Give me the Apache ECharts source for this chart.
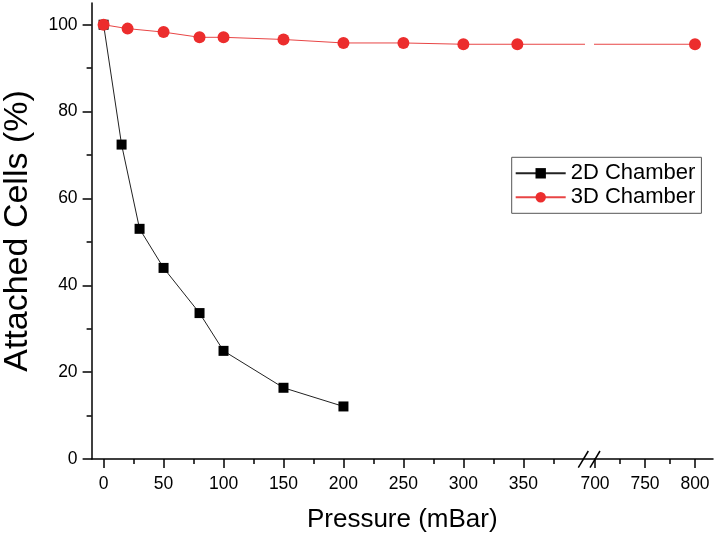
<!DOCTYPE html>
<html>
<head>
<meta charset="utf-8">
<script src="https://cdn.jsdelivr.net/npm/echarts@6/dist/echarts.min.js"></script>
<style>html,body{margin:0;padding:0;background:#fff}#c{width:717px;height:538px}</style>
</head>
<body>
<div id="c"></div>
<script>
// ---- data ----
const pressure2D = [0, 15, 30, 50, 80, 100, 150, 200];
const attached2D = [100, 72.4, 53, 44, 33.6, 24.9, 16.4, 12.1];
const pressure3D = [0, 20, 50, 80, 100, 150, 200, 250, 300, 345, 800];
const attached3D = [100, 99.1, 98.3, 97.1, 97.1, 96.6, 95.8, 95.8, 95.5, 95.5, 95.5];
const seriesNames = ['2D Chamber', '3D Chamber'];
// ---- ticks ----
const xTicksLeft = [0, 50, 100, 150, 200, 250, 300, 350];
const xMinorLeft = [25, 75, 125, 175, 225, 275, 325, 375];
const xTicksRight = [700, 750, 800];
const xMinorRight = [725, 775];
const yTicks = [0, 20, 40, 60, 80, 100];
const yMinor = [10, 30, 50, 70, 90];
const xTitle = 'Pressure (mBar)';
const yTitle = 'Attached Cells (%)';

const FONT = "'Liberation Sans', Arial, Helvetica, sans-serif";
const pairs = (xs, ys) => xs.map((x, i) => [x, ys[i]]);

const axisLineStyle = { color: '#000', width: 1.5 };
function mainX(gridIndex, min, max, ticks) {
  return {
    type: 'value', gridIndex, min, max, position: 'bottom',
    axisLine: { show: true, onZero: false, lineStyle: axisLineStyle },
    axisTick: { show: true, inside: false, length: 9, lineStyle: axisLineStyle, customValues: ticks },
    axisLabel: { show: true, margin: 16, color: '#000', fontSize: 17.5, fontFamily: FONT, customValues: ticks },
    splitLine: { show: false }
  };
}
function minorX(gridIndex, min, max, ticks) {
  return {
    type: 'value', gridIndex, min, max, position: 'bottom',
    axisLine: { show: false, onZero: false },
    axisTick: { show: true, inside: false, length: 5, lineStyle: axisLineStyle, customValues: ticks },
    axisLabel: { show: false, customValues: ticks },
    splitLine: { show: false }
  };
}

const gridTop = 3, gridBottom = 79;
const option = {
  animation: false,
  backgroundColor: '#fff',
  grid: [
    { left: 91.6, top: gridTop, width: 491.7, bottom: gridBottom, outerBoundsMode: 'none', containLabel: false },
    { left: 595, top: gridTop, width: 118, bottom: gridBottom, outerBoundsMode: 'none', containLabel: false },
    { left: 91.6, top: gridTop, right: 4, bottom: gridBottom, outerBoundsMode: 'none', containLabel: false }
  ],
  xAxis: [
    mainX(0, -10, 400, xTicksLeft),
    minorX(0, -10, 400, xMinorLeft),
    mainX(1, 700, 818, xTicksRight),
    minorX(1, 700, 818, xMinorRight),
    {
      type: 'value', gridIndex: 2, min: 0, max: 1,
      axisLine: { show: false, onZero: false }, axisTick: { show: false }, axisLabel: { show: false },
      splitLine: { show: false },
      name: xTitle, nameLocation: 'middle', nameGap: 48,
      nameTextStyle: { color: '#000', fontSize: 26, fontFamily: FONT }
    }
  ],
  yAxis: [
    {
      type: 'value', gridIndex: 0, min: 0, max: 105, position: 'left',
      axisLine: { show: true, onZero: false, lineStyle: axisLineStyle },
      axisTick: { show: true, inside: false, length: 9, lineStyle: axisLineStyle, customValues: yTicks },
      axisLabel: { show: true, margin: 14, color: '#000', fontSize: 17.5, fontFamily: FONT, customValues: yTicks },
      splitLine: { show: false },
      name: yTitle, nameLocation: 'middle', nameGap: 57,
      nameTextStyle: { color: '#000', fontSize: 34, fontFamily: FONT }
    },
    {
      type: 'value', gridIndex: 0, min: 0, max: 105, position: 'left',
      axisLine: { show: false, onZero: false },
      axisTick: { show: true, inside: false, length: 5, lineStyle: axisLineStyle, customValues: yMinor },
      axisLabel: { show: false, customValues: yMinor },
      splitLine: { show: false }
    },
    { type: 'value', gridIndex: 1, min: 0, max: 105, show: false, axisLine: { onZero: false }, splitLine: { show: false } },
    { type: 'value', gridIndex: 2, min: 0, max: 1, show: false, axisLine: { onZero: false }, splitLine: { show: false } }
  ],
  legend: {
    data: seriesNames,
    orient: 'vertical',
    left: 511.7, top: 157.3,
    padding: [4, 6, 4, 3],
    itemGap: 0,
    itemWidth: 50, itemHeight: 13,
    borderColor: '#555', borderWidth: 1,
    backgroundColor: '#fff',
    textStyle: { color: '#000', fontSize: 22, fontFamily: FONT, lineHeight: 24 }
  },
  series: [
    {
      name: seriesNames[0], type: 'line', xAxisIndex: 0, yAxisIndex: 0,
      data: pairs(pressure2D, attached2D),
      symbol: 'rect', symbolSize: 10,
      itemStyle: { color: '#000' },
      lineStyle: { color: '#222', width: 1 },
      clip: true, z: 2
    },
    {
      name: seriesNames[1], type: 'line', xAxisIndex: 0, yAxisIndex: 0,
      data: pairs(pressure3D, attached3D),
      symbol: 'circle', symbolSize: 12,
      itemStyle: { color: '#ec2d2d' },
      lineStyle: { color: '#e84545', width: 1 },
      clip: true, z: 3
    },
    {
      name: seriesNames[1], type: 'line', xAxisIndex: 2, yAxisIndex: 2,
      data: pairs(pressure3D, attached3D),
      symbol: 'circle', symbolSize: 12,
      itemStyle: { color: '#ec2d2d' },
      lineStyle: { color: '#e84545', width: 1 },
      clip: true, z: 3
    }
  ],
  graphic: [
    { type: 'line', shape: { x1: 583.3, y1: 459, x2: 595, y2: 459 }, style: { stroke: '#000', lineWidth: 1.5 } },
    { type: 'line', shape: { x1: 578.3, y1: 467.7, x2: 588.3, y2: 451 }, style: { stroke: '#000', lineWidth: 1.5 } },
    { type: 'line', shape: { x1: 590, y1: 467.7, x2: 600, y2: 451 }, style: { stroke: '#000', lineWidth: 1.5 } }
  ]
};

const chart = echarts.init(document.getElementById('c'), null, { renderer: 'canvas' });
chart.setOption(option);
</script>
</body>
</html>
